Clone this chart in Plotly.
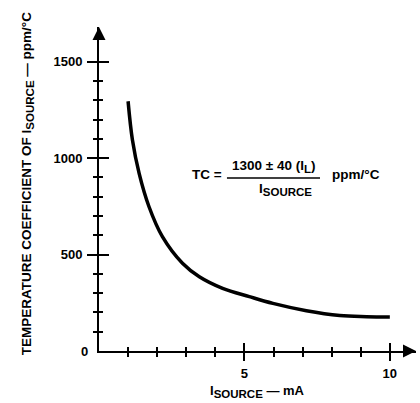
import plotly.graph_objects as go

# Curve data (I_SOURCE in mA, TC in ppm/°C)
i_source = [1.0, 1.15, 1.38, 1.72, 2.18, 2.87, 3.45, 4.25, 5.17, 5.98, 7.13, 8.28, 9.2, 10.0]
tc_ppm = [1295, 1094, 921, 748, 593, 455, 385, 325, 282, 247, 209, 184, 178, 176]

x_major = [5, 10]
x_minor = [1, 2, 3, 4, 6, 7, 8, 9]
y_major = [500, 1000, 1500]
y_minor = [100, 200, 300, 400, 600, 700, 800, 900, 1100, 1200, 1300, 1400]

X_MAX = 10.9
Y_MAX = 1680

FONT = "Liberation Sans"
ink = "black"


def sub(t, px):
    return "<sub><span style='font-size:%spx'>%s</span></sub>" % (px, t)


fig = go.Figure()
fig.add_trace(go.Scatter(x=i_source, y=tc_ppm, mode="lines",
                         line=dict(color=ink, width=3.5, shape="spline", smoothing=1.0),
                         hoverinfo="skip", showlegend=False))
# dummy trace to activate overlay axes
fig.add_trace(go.Scatter(x=[None], y=[None], xaxis="x2", yaxis="y2", showlegend=False))

tickfont = dict(family=FONT, size=13, color=ink, weight="bold")

fig.update_layout(
    width=420, height=403,
    margin=dict(l=99, r=4, t=27, b=52),
    paper_bgcolor="white", plot_bgcolor="white",
    xaxis=dict(range=[0, X_MAX], showgrid=False, zeroline=False,
               showline=True, linecolor=ink, linewidth=2,
               tickmode="array", tickvals=x_major, ticktext=[str(v) for v in x_major],
               ticks="outside", ticklen=8, tickwidth=2, tickcolor=ink,
               tickfont=tickfont, ticklabelstandoff=1,
               minor=dict(tickmode="array", tickvals=x_minor, ticks="outside",
                          ticklen=4, tickwidth=2, tickcolor=ink)),
    yaxis=dict(range=[0, Y_MAX], showgrid=False, zeroline=False,
               showline=True, linecolor=ink, linewidth=2,
               tickmode="array", tickvals=y_major, ticktext=[str(v) for v in y_major],
               ticks="outside", ticklen=10, tickwidth=2, tickcolor=ink,
               tickfont=tickfont, ticklabelstandoff=2,
               minor=dict(tickmode="array", tickvals=y_minor, ticks="outside",
                          ticklen=4, tickwidth=2, tickcolor=ink)),
    xaxis2=dict(range=[0, X_MAX], overlaying="x", anchor="y", side="bottom",
                showgrid=False, zeroline=False, showline=False, showticklabels=False,
                tickmode="array", tickvals=x_major,
                ticks="inside", ticklen=8, tickwidth=2, tickcolor=ink,
                minor=dict(tickmode="array", tickvals=x_minor, ticks="inside",
                           ticklen=4, tickwidth=2, tickcolor=ink)),
    yaxis2=dict(range=[0, Y_MAX], overlaying="y", anchor="x", side="left",
                showgrid=False, zeroline=False, showline=False, showticklabels=False,
                tickmode="array", tickvals=y_major,
                ticks="inside", ticklen=10, tickwidth=2, tickcolor=ink,
                minor=dict(tickmode="array", tickvals=y_minor, ticks="inside",
                           ticklen=4, tickwidth=2, tickcolor=ink)),
)

annots = []
# axis arrowheads
annots.append(dict(x=X_MAX, y=0, xref="x", yref="y", text="", showarrow=True,
                   ax=-12, ay=0, arrowhead=2, arrowsize=1.3, arrowwidth=2, arrowcolor=ink, standoff=0))
annots.append(dict(x=0, y=Y_MAX, xref="x", yref="y", text="", showarrow=True,
                   ax=0, ay=12, arrowhead=2, arrowsize=1.3, arrowwidth=2, arrowcolor=ink, standoff=0))
# origin label
annots.append(dict(x=0, y=0, xref="x", yref="y", text="0", showarrow=False,
                   xanchor="right", yanchor="middle", xshift=-9, font=tickfont))
# axis titles
annots.append(dict(x=0, y=0.515, xref="paper", yref="paper",
                   text="TEMPERATURE COEFFICIENT OF I" + sub("SOURCE", 11.5) + " — ppm/°C",
                   textangle=-90, showarrow=False, xanchor="center", yanchor="middle",
                   xshift=-72, font=dict(family=FONT, size=13.5, color=ink, weight="bold")))
annots.append(dict(x=0.5, y=0, xref="paper", yref="paper",
                   text="I" + sub("SOURCE", 11.5) + " — mA", showarrow=False,
                   xanchor="center", yanchor="middle", yshift=-40,
                   font=dict(family=FONT, size=13, color=ink, weight="bold")))
# formula
ff = dict(family=FONT, size=13.5, color=ink, weight="bold")
annots.append(dict(x=3.70, y=913, xref="x", yref="y", text="TC =", showarrow=False,
                   xanchor="center", yanchor="middle", font=ff))
annots.append(dict(x=6.0, y=956, xref="x", yref="y", text="1300 ± 40 (I" + sub("L", 11.5) + ")",
                   showarrow=False, xanchor="center", yanchor="middle", font=ff))
annots.append(dict(x=6.4, y=840, xref="x", yref="y", text="I" + sub("SOURCE", 11.5),
                   showarrow=False, xanchor="center", yanchor="middle", font=ff))
annots.append(dict(x=8.84, y=913, xref="x", yref="y", text="ppm/°C", showarrow=False,
                   xanchor="center", yanchor="middle", font=ff))
fig.update_layout(annotations=annots)
fig.add_shape(type="line", xref="x", yref="y", x0=4.4, x1=7.6, y0=897, y1=897,
              line=dict(color=ink, width=1.5))

fig.write_html("out.html", config={"displayModeBar": False},
               post_script="document.body.style.margin='0';")
